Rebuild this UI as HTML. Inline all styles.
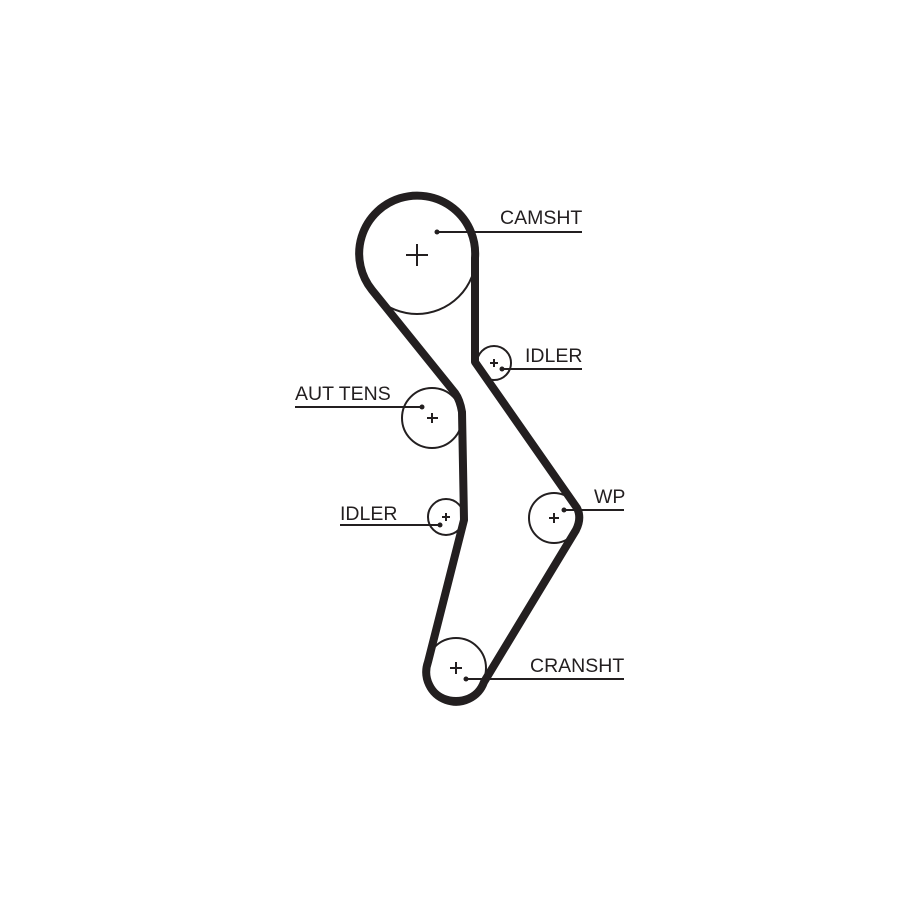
<!DOCTYPE html>
<html><head><style>body{margin:0;background:#fff}svg{display:block}</style></head><body>
<svg width="900" height="900" viewBox="0 0 900 900" xmlns="http://www.w3.org/2000/svg" font-family="Liberation Sans, sans-serif" font-size="19.5" fill="#231f20">
<g fill="none" stroke="#231f20" stroke-width="2">
<circle cx="417" cy="255" r="59"/>
<circle cx="494" cy="363" r="17"/>
<circle cx="432" cy="418" r="30"/>
<circle cx="446" cy="517" r="18"/>
<circle cx="554" cy="518" r="25"/>
<circle cx="456" cy="668" r="30"/>
<path d="M406 255h22M417 244v22M427 418h11M432 413v10M490 363h8M494 359v8M442 517h8M446 513v8M549 518h10M554 513v10M450 668h12M456 662v12"/>
<path d="M437 232H582M502 369H582M295 407H422M340 525H440M564 510H624M466 679H624"/>
</g>
<g fill="#231f20">
<circle cx="437" cy="232" r="2.5"/><circle cx="502" cy="369" r="2.5"/><circle cx="422" cy="407" r="2.5"/><circle cx="440" cy="525" r="2.5"/><circle cx="564" cy="510" r="2.5"/><circle cx="466" cy="679" r="2.5"/>
</g>
<path fill="none" stroke="#231f20" stroke-width="8" stroke-linejoin="round" d="M475 258 L475 362 L577 508 Q582 518 576 530 L484 682 A29 29 0 0 1 428 662 L464 520 L462 412 Q460 400 455 393 L372 290 A58 58 0 1 1 475 258 Z"/>
<text x="500" y="224">CAMSHT</text>
<text x="525" y="362">IDLER</text>
<text x="295" y="400">AUT TENS</text>
<text x="340" y="520">IDLER</text>
<text x="594" y="503">WP</text>
<text x="530" y="672">CRANSHT</text>
</svg>
</body></html>
